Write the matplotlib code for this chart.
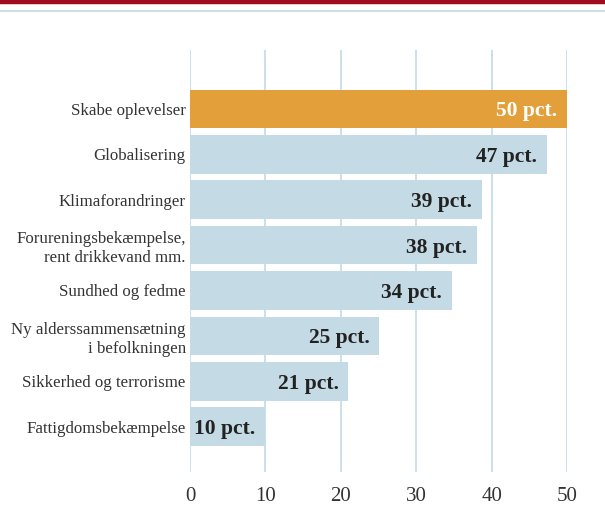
import matplotlib
matplotlib.use("Agg")
import matplotlib.pyplot as plt
from matplotlib.lines import Line2D

categories = ["Skabe oplevelser", "Globalisering", "Klimaforandringer",
              "Forureningsbekæmpelse,\nrent drikkevand mm.", "Sundhed og fedme",
              "Ny alderssammensætning\ni befolkningen", "Sikkerhed og terrorisme",
              "Fattigdomsbekæmpelse"]
values = [50, 47.3, 38.7, 38.1, 34.7, 25.1, 21, 10]
value_labels = ["50 pct.", "47 pct.", "39 pct.", "38 pct.", "34 pct.", "25 pct.", "21 pct.", "10 pct."]
xticks = [0, 10, 20, 30, 40, 50]

plt.rcParams['font.family'] = ['Liberation Serif', 'DejaVu Serif']

fig = plt.figure(figsize=(6.05, 5.13), dpi=100)
W, H = 605, 513
ax = fig.add_axes([190 / W, 1 - 472 / H, (567 - 190) / W, (472 - 50) / H])

grid_c = "#c8dce8"
blue = "#c4dae4"
orange = "#e3a03a"

for x in xticks:
    ax.axvline(x, color=grid_c, lw=1.3, zorder=0)

colors = [orange] + [blue] * (len(values) - 1)
ypos = list(range(len(values)))
ax.barh(ypos, values, height=0.85, color=colors, zorder=2)

for y, v, lab, c in zip(ypos, values, value_labels, colors):
    tc = "white" if c == orange else "#222222"
    ax.annotate(lab, (v, y), xytext=(-7, 0), textcoords="offset points",
                ha="right", va="center_baseline", fontsize=15.5, fontweight="bold",
                color=tc, zorder=3)

ax.set_xlim(0, 50)
ax.set_ylim(8.0, -1.3)
ax.set_yticks(ypos)
ax.set_yticklabels(categories, fontsize=12.2, color="#333333", linespacing=1.25)
ax.set_xticks(xticks)
ax.set_xticklabels([str(t) for t in xticks], fontsize=15, color="#333333")
ax.tick_params(axis="both", length=0)
ax.tick_params(axis="x", pad=11)
ax.tick_params(axis="y", pad=3)
for s in ax.spines.values():
    s.set_visible(False)

fig.add_artist(Line2D([0, 1], [1 - 2 / H, 1 - 2 / H], transform=fig.transFigure,
                      color="#a00a1e", lw=3.2))
fig.add_artist(Line2D([0, 1], [1 - 11 / H, 1 - 11 / H], transform=fig.transFigure,
                      color="#d0dfe8", lw=1.5))

fig.savefig("out.png", dpi=100)
